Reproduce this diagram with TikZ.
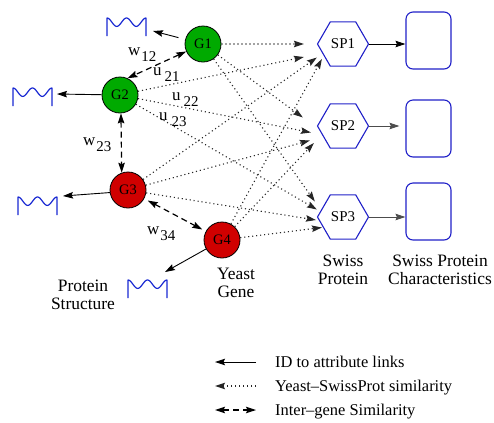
\documentclass[tikz,border=0pt]{standalone}
\usepackage{fontspec}
\setmainfont{Liberation Serif}
\usetikzlibrary{arrows.meta,shapes.geometric,calc}

\definecolor{geneGreen}{RGB}{0,170,0}
\definecolor{geneRed}{RGB}{208,0,0}
\definecolor{protBlue}{RGB}{32,32,200}
\definecolor{waveBlue}{RGB}{24,40,210}

\tikzset{
  pics/strucwave/.style={code={
    \draw[waveBlue,line width=1.2bp,line join=round]
      (0,18) -- (0,1) -- plot[domain=0:720,samples=73,smooth] ({\x/720*39},{4.2*(1-cos(\x))}) -- (39,18);
  }},
  tipshape/.tip={Stealth[length=10bp,width=6.5bp,inset=1.5bp]},
}
\newcommand{\wsub}[1]{{\fontsize{15}{17}\selectfont\raisebox{-6.5bp}{#1}}}

\begin{document}
\begin{tikzpicture}[x=1bp,y=-1bp,
  gene/.style={circle,draw=black,line width=0.8bp,minimum size=36bp,inner sep=0pt,
    font=\fontsize{14.5}{16}\selectfont},
  ggene/.style={gene,fill=geneGreen},
  rgene/.style={gene,fill=geneRed},
  sprot/.style={regular polygon,regular polygon sides=6,draw=protBlue,line width=1.1bp,
    minimum size=51bp,inner sep=0pt,font=\fontsize{15}{17}\selectfont},
  charbox/.style={draw=protBlue,line width=1.1bp,rounded corners=7bp,
    minimum width=45bp,minimum height=57bp,inner sep=0pt},
  idlink/.style={-{tipshape},line width=0.9bp,black},
  simlink/.style={-{tipshape},line width=1.1bp,black!85,dash pattern=on 1.1bp off 2.9bp},
  genelink/.style={{tipshape}-{tipshape},line width=1.2bp,dash pattern=on 6bp off 4bp},
  lbl/.style={font=\fontsize{17.5}{18.5}\selectfont,align=center,inner sep=0pt},
  wlbl/.style={font=\fontsize{17}{18}\selectfont,inner sep=0pt,anchor=base west},
  leg/.style={font=\fontsize{16.5}{18}\selectfont,inner sep=0pt,anchor=base west},
]
\useasboundingbox (0,0) rectangle (494,422);

% yeast genes
\node[ggene] (G1) at (203,44) {G1};
\node[ggene] (G2) at (120,95) {G2};
\node[rgene] (G3) at (128,190) {G3};
\node[rgene] (G4) at (222,240) {G4};

% Swiss-Prot proteins and their characteristics
\node[sprot] (SP1) at (343,44) {SP1};
\node[sprot] (SP2) at (343,126) {SP2};
\node[sprot] (SP3) at (343,217) {SP3};
\node[charbox] (B1) at (428.5,40.5) {};
\node[charbox] (B2) at (428.5,128.5) {};
\node[charbox] (B3) at (428.5,211.5) {};

\draw[idlink] (SP1.east) -- (SP1.east -| B1.west);
\draw[idlink,black!70] (SP2.east) -- ($(SP2.east -| B2.west)+(-6,0)$);
\draw[idlink,black!70] (SP3.east) -- (SP3.east -| B3.west);

% protein structures
\pic at (107,18) {strucwave};
\pic at (13,88) {strucwave};
\pic at (18,197) {strucwave};
\pic at (128,280) {strucwave};
\coordinate (W1) at (153,31);
\coordinate (W2) at (57,94);
\coordinate (W3) at (63,196);
\coordinate (W4) at (165,272);
\draw[idlink,shorten <=7bp] (G1) -- (W1);
\draw[idlink] (G2) -- (W2);
\draw[idlink] (G3.188) -- (W3);
\draw[idlink] (G4) -- (W4);

% inter-gene similarity
\draw[genelink] (G1.204) -- (G2.66);
\draw[genelink] (G2.273) -- (G3.110);
\draw[genelink,shorten <=4bp,shorten >=4bp] (G3) -- (G4);

% yeast - SwissProt similarity
\coordinate (t11) at ($(SP1.west)+(-13,0)$);
\coordinate (t21) at ($(SP1.west)+(-13,13)$);
\coordinate (t31) at ($(SP1.west)+(0,13.5)$);
\coordinate (t41) at ($(SP1.west)+(5,15)$);
\coordinate (t12) at ($(SP2.west)+(-14,-8.5)$);
\coordinate (t22) at ($(SP2.west)+(-6,6.5)$);
\coordinate (t32) at ($(SP2.west)+(-7,14.5)$);
\coordinate (t42) at ($(SP2.west)+(-3,17)$);
\coordinate (t13) at ($(SP3.west)+(-2,-15.5)$);
\coordinate (t23) at ($(SP3.west)+(0,-7.5)$);
\coordinate (t33) at ($(SP3.west)+(-1,3)$);
\coordinate (t43) at ($(SP3.west)+(5,10.5)$);
\foreach \g in {1,2,3,4}{
  \foreach \s in {1,2,3}{
    \draw[simlink] (G\g) -- (t\g\s);
  }
}

% weights
\node[wlbl] (w12) at (128,55) {w\hspace{1bp}\wsub{12}};
\node[wlbl] (u21) at (153,75) {u\hspace{3bp}\wsub{21}};
\node[wlbl] (u22) at (172,100) {u\hspace{3bp}\wsub{22}};
\node[wlbl] (u23) at (159,120) {u\hspace{4bp}\wsub{23}};
\node[wlbl] (w23) at (83,145) {w\hspace{1bp}\wsub{23}};
\node[wlbl] (w34) at (147,234) {w\hspace{1bp}\wsub{34}};

% captions
\node[lbl] (capsp) at (343,270) {Swiss\\Protein};
\node[lbl] (capch) at (440,270) {Swiss Protein\\Characteristics};
\node[lbl] (capyg) at (236,283) {Yeast\\Gene};
\node[lbl] (capps) at (83,295) {Protein\\Structure};

% legend
\coordinate (L1a) at (256,362);
\coordinate (L1b) at (215,362);
\coordinate (L2a) at (256,386);
\coordinate (L2b) at (215,386);
\coordinate (L3a) at (256,410);
\coordinate (L3b) at (215,410);
\draw[idlink] (L1a) -- (L1b);
\draw[simlink] (L2a) -- (L2b);
\draw[genelink] (L3b) -- (L3a);
\node[leg] (leg1) at (275,367.5) {ID to attribute links};
\node[leg] (leg2) at (275,391.5) {Yeast–SwissProt similarity};
\node[leg] (leg3) at (275,415.5) {Inter–gene Similarity};
\end{tikzpicture}
\end{document}
